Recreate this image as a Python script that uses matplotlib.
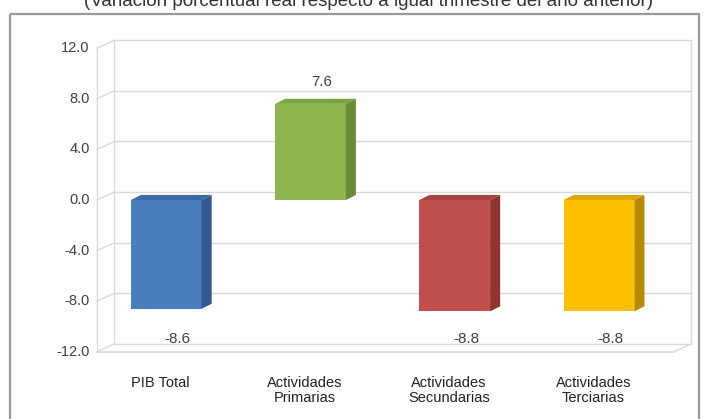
import matplotlib.pyplot as plt
from matplotlib.patches import Polygon, Rectangle
import numpy as np

plt.rcParams['font.family'] = ['Liberation Sans', 'DejaVu Sans']

categories = ["PIB Total", "Actividades\nPrimarias", "Actividades\nSecundarias", "Actividades\nTerciarias"]
values = [-8.6, 7.6, -8.8, -8.8]
value_labels = ["-8.6", "7.6", "-8.8", "-8.8"]
yticks = [12.0, 8.0, 4.0, 0.0, -4.0, -8.0, -12.0]
title = "(Variación porcentual real respecto a igual trimestre del año anterior)"

front_colors = ["#4a7ebf", "#8db650", "#c0504d", "#fdbf00"]
side_colors = ["#2f5a8f", "#6a8c38", "#8f3430", "#b88a00"]
top_colors = ["#3a6aa6", "#7aa344", "#a84340", "#dba600"]

W, H = 709, 419
fig = plt.figure(figsize=(W / 100, H / 100), dpi=100)
fig.patch.set_facecolor("white")

# outer frame and clipped title
frame = fig.add_axes([0, 0, 1, 1])
frame.set_xlim(0, W)
frame.set_ylim(H, 0)
frame.axis("off")
frame.add_patch(Rectangle((10, 14), 689, 420, fill=False, ec="#9a9a9a", lw=1.6))
frame.text(368, 2, title, ha="center", va="center", fontsize=13.5, color="#333333",
           bbox=dict(fc="white", ec="none", pad=1))

# front plane axes: x in category units, y in value units
ax = fig.add_axes([97 / W, (H - 351.8) / H, 577 / W, 303.6 / H])
ax.set_xlim(-0.5, 3.5)
ax.set_ylim(-12, 12)
ax.axis("off")

ddx, ddy = 0.12, 0.63      # depth offset of back wall
bdx, bdy = 0.07, 0.4        # depth offset of bars
bw = 0.49
x0, x1 = -0.5, 3.5
grid_c = "#d9d9d9"

# back wall gridlines
for v in yticks:
    ax.plot([x0 + ddx, x1 + ddx], [v + ddy, v + ddy], color=grid_c, lw=1, clip_on=False)
ax.plot([x0 + ddx, x0 + ddx], [-12 + ddy, 12 + ddy], color=grid_c, lw=1, clip_on=False)
ax.plot([x1 + ddx, x1 + ddx], [-12 + ddy, 12 + ddy], color=grid_c, lw=1, clip_on=False)
# left side wall
for v in yticks:
    ax.plot([x0, x0 + ddx], [v, v + ddy], color=grid_c, lw=1, clip_on=False)
ax.plot([x0, x0], [-12, 12], color=grid_c, lw=1, clip_on=False)
# floor front edge
ax.plot([x0, x1], [-12, -12], color=grid_c, lw=1.2, clip_on=False)
ax.plot([x1, x1 + ddx], [-12, -12 + ddy], color=grid_c, lw=1, clip_on=False)

# y tick labels
for v in yticks:
    ax.text(x0 - 0.05, v, f"{v:.1f}", ha="right", va="center", fontsize=10.5, color="#404040")

# bars
for i, v in enumerate(values):
    left = i - bw / 2 - 0.02
    right = left + bw
    lo, hi = min(0, v), max(0, v)
    ax.add_patch(Rectangle((left, lo), bw, hi - lo, fc=front_colors[i], ec="none", zorder=3))
    ax.add_patch(Polygon([(right, lo), (right + bdx, lo + bdy), (right + bdx, hi + bdy), (right, hi)],
                         closed=True, fc=side_colors[i], ec="none", zorder=3))
    ax.add_patch(Polygon([(left, hi), (left + bdx, hi + bdy), (right + bdx, hi + bdy), (right, hi)],
                         closed=True, fc=top_colors[i], ec="none", zorder=3))
    ly = v + 1.7 if v > 0 else -11.0
    ax.text(i + 0.06, ly, value_labels[i], ha="center", va="center", fontsize=11, color="#404040")
    ax.text(i - 0.06, -13.9, categories[i], ha="center", va="top", fontsize=10.5, color="#222222",
            linespacing=1.15)

fig.savefig("out.png", dpi=100)
